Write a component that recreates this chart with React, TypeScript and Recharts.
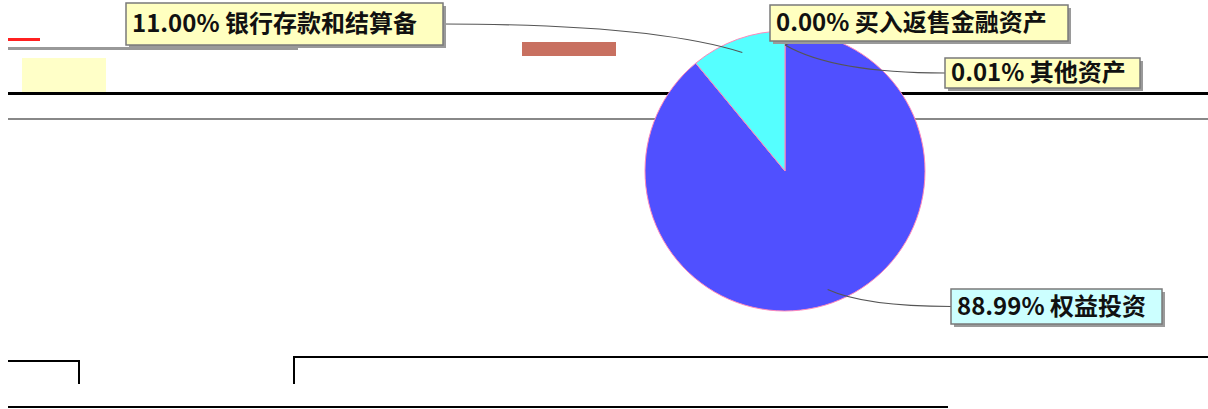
import { PieChart, Pie, Cell } from "recharts";

// asset allocation, percent of total
const names = ["买入返售金融资产", "其他资产", "权益投资", "银行存款和结算备"];
const values = [0.0, 0.01, 88.99, 11.0];
const colors = ["#ffffa0", "#00cc99", "#5050ff", "#55ffff"];

const data = names.map((name, i) => ({ name, value: values[i] }));

const RAD = Math.PI / 180;

// where each label box sits, relative to the pie centre
const boxes: Record<string, any> = {
  买入返售金融资产: { dx: -15, dy: -166, w: 298, h: 36, fill: "#ffffc0", side: "bottom" },
  其他资产: { dx: 160, dy: -113, w: 195, h: 30, fill: "#ffffc0", side: "left" },
  权益投资: { dx: 166, dy: 118, w: 211, h: 35, fill: "#ccffff", side: "left" },
  银行存款和结算备: { dx: -659, dy: -168, w: 317, h: 42, fill: "#ffffc0", side: "right" },
};

function renderLabel(props: any) {
  const { cx, cy, midAngle, outerRadius, payload, value } = props;
  const b = boxes[payload.name];
  if (!b) return null;
  const sx = cx + outerRadius * 0.9 * Math.cos(-midAngle * RAD);
  const sy = cy + outerRadius * 0.9 * Math.sin(-midAngle * RAD);
  const bx = cx + b.dx;
  const by = cy + b.dy;
  let ex = bx;
  let ey = by + b.h / 2;
  if (b.side === "right") ex = bx + b.w;
  if (b.side === "bottom") {
    ex = bx + 40;
    ey = by + b.h;
  }
  const qx = sx + (ex - sx) * 0.3;
  const qy = ey;
  return (
    <g key={payload.name}>
      <path d={`M${sx},${sy} Q${qx},${qy} ${ex},${ey}`} fill="none" stroke="#555" strokeWidth={1.2} />
      <rect x={bx + 3} y={by + 3} width={b.w} height={b.h} fill="#9a9a9a" />
      <rect x={bx} y={by} width={b.w} height={b.h} fill={b.fill} stroke="#7a7a7a" strokeWidth={1.5} />
      <text
        x={bx + 6}
        y={by + b.h / 2 + 8}
        fontSize={24}
        fontWeight="bold"
        fontFamily='"Noto Sans CJK SC", sans-serif'
        fill="#111"
      >
        {Number(value).toFixed(2)}% {payload.name}
      </text>
    </g>
  );
}

export default function App() {
  return (
    <div style={{ position: "absolute", left: 0, top: 0, width: 1208, height: 409, background: "#fff", overflow: "hidden" }}>
      {/* page borders around the chart */}
      <div style={{ position: "absolute", left: 22, top: 58, width: 84, height: 34, background: "#ffffc8" }} />
      <div style={{ position: "absolute", left: 8, top: 47, width: 290, height: 3, background: "#999" }} />
      <div style={{ position: "absolute", left: 8, top: 38, width: 32, height: 3, background: "#ff2020" }} />
      <div style={{ position: "absolute", left: 522, top: 42, width: 94, height: 14, background: "#c87060" }} />
      <div style={{ position: "absolute", left: 8, top: 92, width: 1200, height: 3, background: "#000" }} />
      <div style={{ position: "absolute", left: 8, top: 118, width: 1200, height: 2, background: "#888" }} />
      <div style={{ position: "absolute", left: 8, top: 360, width: 70, height: 2, background: "#000" }} />
      <div style={{ position: "absolute", left: 78, top: 360, width: 2, height: 24, background: "#000" }} />
      <div style={{ position: "absolute", left: 293, top: 356, width: 915, height: 2, background: "#000" }} />
      <div style={{ position: "absolute", left: 293, top: 356, width: 2, height: 28, background: "#000" }} />
      <div style={{ position: "absolute", left: 8, top: 406, width: 940, height: 2, background: "#000" }} />
      <div style={{ position: "absolute", left: 0, top: 0 }}>
        <PieChart width={1208} height={409}>
          <Pie
            data={data}
            dataKey="value"
            nameKey="name"
            cx={780}
            cy={166}
            outerRadius={140}
            startAngle={90}
            endAngle={-270}
            stroke="#ff88bb"
            strokeWidth={1}
            label={renderLabel}
            labelLine={false}
            isAnimationActive={false}
          >
            {data.map((d, i) => (
              <Cell key={d.name} fill={colors[i]} />
            ))}
          </Pie>
        </PieChart>
      </div>
    </div>
  );
}
